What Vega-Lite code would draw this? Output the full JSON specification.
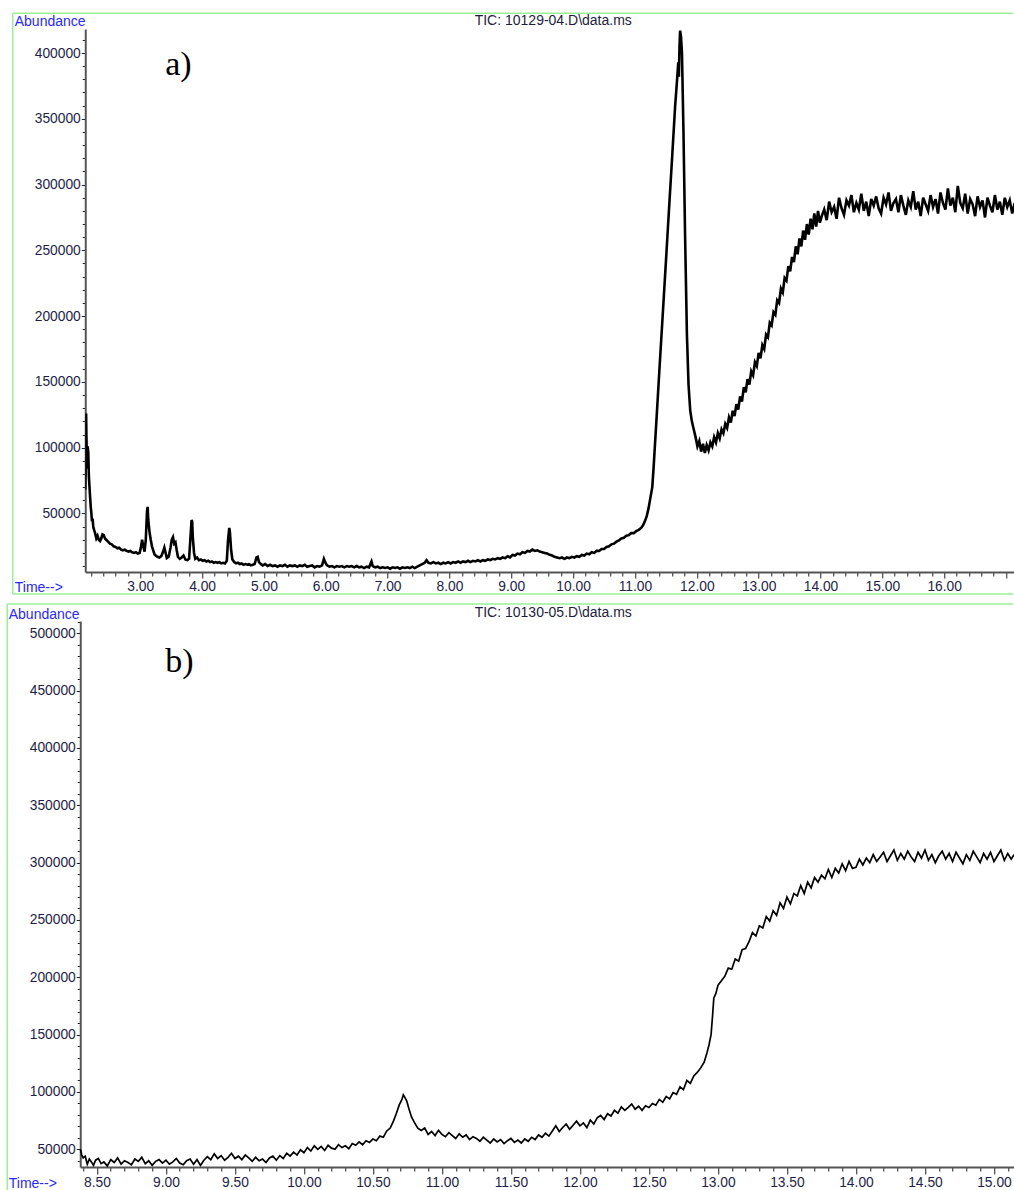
{
"$schema": "https://vega.github.io/schema/vega-lite/v6.json",
"padding": {"left": 6.25, "top": 12, "right": 0, "bottom": 0},
"background": "white",
"spacing": 8,
"config": {"view": {"stroke": null}, "font": "Liberation Sans"},
"datasets": {
"a": [
{"t":2.11,"v":68000},{"t":2.12,"v":92000},{"t":2.125,"v":126000},{"t":2.13,"v":108000},{"t":2.14,"v":84000},{"t":2.15,"v":101000},{"t":2.16,"v":96000},{"t":2.17,"v":78000},{"t":2.18,"v":70000},{"t":2.19,"v":62000},{"t":2.2,"v":55000},{"t":2.21,"v":50000},{"t":2.22,"v":44000},{"t":2.23,"v":46000},{"t":2.24,"v":40000},{"t":2.25,"v":38000},{"t":2.27,"v":35000},{"t":2.29,"v":31000},{"t":2.31,"v":33000},{"t":2.33,"v":30000},{"t":2.35,"v":29000},{"t":2.37,"v":31000},{"t":2.39,"v":34000},{"t":2.41,"v":33500},{"t":2.43,"v":31000},{"t":2.45,"v":30000},{"t":2.48,"v":28500},{"t":2.51,"v":27000},{"t":2.54,"v":26500},{"t":2.57,"v":25000},{"t":2.6,"v":24500},{"t":2.63,"v":23500},{"t":2.66,"v":24000},{"t":2.69,"v":22500},{"t":2.72,"v":22000},{"t":2.75,"v":22500},{"t":2.78,"v":21500},{"t":2.81,"v":21000},{"t":2.84,"v":21500},{"t":2.87,"v":20500},{"t":2.9,"v":20000},{"t":2.93,"v":20500},{"t":2.96,"v":19500},{"t":2.99,"v":20000},
{"t":3.01,"v":24000},{"t":3.03,"v":30000},{"t":3.05,"v":25000},{"t":3.07,"v":21000},{"t":3.09,"v":30000},{"t":3.11,"v":52000},{"t":3.12,"v":55000},{"t":3.13,"v":45000},{"t":3.15,"v":36000},{"t":3.17,"v":30000},{"t":3.19,"v":25000},{"t":3.21,"v":22000},{"t":3.23,"v":19000},{"t":3.25,"v":18000},{"t":3.28,"v":17000},{"t":3.31,"v":16500},{"t":3.34,"v":17500},{"t":3.37,"v":21000},{"t":3.39,"v":24000},{"t":3.41,"v":20000},{"t":3.43,"v":16000},{"t":3.46,"v":17000},{"t":3.49,"v":24000},{"t":3.51,"v":30000},{"t":3.53,"v":32000},{"t":3.55,"v":27000},{"t":3.57,"v":28000},{"t":3.59,"v":22000},{"t":3.61,"v":17000},{"t":3.64,"v":15500},{"t":3.67,"v":16500},{"t":3.7,"v":18000},{"t":3.73,"v":15000},{"t":3.76,"v":14500},{"t":3.79,"v":15500},{"t":3.81,"v":30000},{"t":3.83,"v":45000},{"t":3.84,"v":44000},{"t":3.85,"v":32000},{"t":3.87,"v":20000},{"t":3.89,"v":15500},{"t":3.92,"v":16500},{"t":3.95,"v":14500},{"t":3.98,"v":15000},
{"t":4.01,"v":14000},{"t":4.04,"v":14500},{"t":4.07,"v":13500},{"t":4.1,"v":14000},{"t":4.13,"v":13000},{"t":4.16,"v":13500},{"t":4.19,"v":12500},{"t":4.22,"v":13000},{"t":4.25,"v":12500},{"t":4.28,"v":13000},{"t":4.31,"v":12000},{"t":4.34,"v":12500},{"t":4.37,"v":12000},{"t":4.4,"v":14000},{"t":4.42,"v":30000},{"t":4.44,"v":39000},{"t":4.45,"v":36000},{"t":4.47,"v":22000},{"t":4.49,"v":15000},{"t":4.52,"v":13000},{"t":4.55,"v":12000},{"t":4.58,"v":12500},{"t":4.61,"v":11500},{"t":4.64,"v":12000},{"t":4.67,"v":11000},{"t":4.7,"v":11500},{"t":4.73,"v":11000},{"t":4.76,"v":11500},{"t":4.79,"v":10500},{"t":4.82,"v":11000},{"t":4.85,"v":11500},{"t":4.88,"v":16500},{"t":4.9,"v":17000},{"t":4.92,"v":13000},{"t":4.95,"v":11500},{"t":4.98,"v":10500},
{"t":5.02,"v":11500},{"t":5.06,"v":10000},{"t":5.1,"v":11000},{"t":5.14,"v":10000},{"t":5.18,"v":10500},{"t":5.22,"v":9500},{"t":5.26,"v":10500},{"t":5.3,"v":10000},{"t":5.34,"v":11000},{"t":5.38,"v":9500},{"t":5.42,"v":10500},{"t":5.46,"v":10000},{"t":5.5,"v":10500},{"t":5.54,"v":9500},{"t":5.58,"v":10500},{"t":5.62,"v":10000},{"t":5.66,"v":11000},{"t":5.7,"v":9500},{"t":5.74,"v":10000},{"t":5.78,"v":10500},{"t":5.82,"v":9000},{"t":5.86,"v":10000},{"t":5.9,"v":9500},{"t":5.94,"v":10500},{"t":5.97,"v":15500},{"t":5.99,"v":13000},
{"t":6.02,"v":10500},{"t":6.06,"v":9500},{"t":6.1,"v":10000},{"t":6.14,"v":9000},{"t":6.18,"v":10000},{"t":6.22,"v":9500},{"t":6.26,"v":10000},{"t":6.3,"v":9000},{"t":6.34,"v":10000},{"t":6.38,"v":9500},{"t":6.42,"v":10000},{"t":6.46,"v":9000},{"t":6.5,"v":10000},{"t":6.54,"v":9000},{"t":6.58,"v":9500},{"t":6.62,"v":8500},{"t":6.66,"v":9500},{"t":6.7,"v":9000},{"t":6.74,"v":13500},{"t":6.76,"v":10000},{"t":6.8,"v":9000},{"t":6.84,"v":9500},{"t":6.88,"v":8500},{"t":6.92,"v":9000},{"t":6.96,"v":8500},
{"t":7.0,"v":9000},{"t":7.04,"v":8000},{"t":7.08,"v":9000},{"t":7.12,"v":8500},{"t":7.16,"v":9000},{"t":7.2,"v":8000},{"t":7.24,"v":9000},{"t":7.28,"v":8500},{"t":7.32,"v":9000},{"t":7.36,"v":8500},{"t":7.4,"v":9500},{"t":7.44,"v":8500},{"t":7.48,"v":9500},{"t":7.52,"v":10500},{"t":7.56,"v":11500},{"t":7.6,"v":12500},{"t":7.63,"v":14500},{"t":7.66,"v":12500},{"t":7.7,"v":12000},{"t":7.74,"v":13000},{"t":7.78,"v":12000},{"t":7.82,"v":12500},{"t":7.86,"v":11500},{"t":7.9,"v":12500},{"t":7.94,"v":12000},{"t":7.98,"v":13000},
{"t":8.02,"v":12000},{"t":8.06,"v":13000},{"t":8.1,"v":12500},{"t":8.14,"v":13500},{"t":8.18,"v":12500},{"t":8.22,"v":13500},{"t":8.26,"v":13000},{"t":8.3,"v":14000},{"t":8.34,"v":13000},{"t":8.38,"v":14000},{"t":8.42,"v":13500},{"t":8.46,"v":14500},{"t":8.5,"v":13500},{"t":8.54,"v":14500},{"t":8.58,"v":14000},{"t":8.62,"v":15000},{"t":8.66,"v":14500},{"t":8.7,"v":15500},{"t":8.74,"v":15000},{"t":8.78,"v":16000},{"t":8.82,"v":15500},{"t":8.86,"v":16500},{"t":8.9,"v":16000},{"t":8.94,"v":17500},{"t":8.98,"v":16500},
{"t":9.02,"v":18500},{"t":9.06,"v":18000},{"t":9.1,"v":19500},{"t":9.14,"v":19000},{"t":9.18,"v":20500},{"t":9.22,"v":20000},{"t":9.26,"v":21500},{"t":9.3,"v":21000},{"t":9.34,"v":22500},{"t":9.38,"v":21500},{"t":9.42,"v":22000},{"t":9.46,"v":21000},{"t":9.5,"v":20500},{"t":9.54,"v":20000},{"t":9.58,"v":19500},{"t":9.62,"v":18500},{"t":9.66,"v":18000},{"t":9.7,"v":17000},{"t":9.74,"v":16500},{"t":9.78,"v":16000},{"t":9.82,"v":16500},{"t":9.86,"v":15500},{"t":9.9,"v":16500},{"t":9.94,"v":16000},{"t":9.98,"v":17000},
{"t":10.02,"v":16500},{"t":10.06,"v":17500},{"t":10.1,"v":17000},{"t":10.14,"v":18500},{"t":10.18,"v":18000},{"t":10.22,"v":19500},{"t":10.26,"v":19000},{"t":10.3,"v":20500},{"t":10.34,"v":20000},{"t":10.38,"v":21500},{"t":10.42,"v":21500},{"t":10.46,"v":23000},{"t":10.5,"v":23000},{"t":10.54,"v":24500},{"t":10.58,"v":25000},{"t":10.62,"v":26500},{"t":10.66,"v":27000},{"t":10.7,"v":28500},{"t":10.74,"v":29500},{"t":10.78,"v":31000},{"t":10.82,"v":31500},{"t":10.86,"v":33000},{"t":10.9,"v":33500},{"t":10.94,"v":35000},{"t":10.98,"v":35000},
{"t":11.02,"v":36500},{"t":11.06,"v":37500},{"t":11.1,"v":39000},{"t":11.13,"v":41000},{"t":11.16,"v":44000},{"t":11.19,"v":48000},{"t":11.22,"v":54000},{"t":11.25,"v":62000},{"t":11.28,"v":70000},{"t":11.3,"v":84000},{"t":11.35,"v":123000},{"t":11.4,"v":163000},{"t":11.45,"v":202000},{"t":11.5,"v":241000},{"t":11.55,"v":281000},{"t":11.6,"v":320000},{"t":11.65,"v":360000},{"t":11.68,"v":379000},{"t":11.69,"v":386000},{"t":11.7,"v":393000},{"t":11.71,"v":382000},{"t":11.72,"v":405000},{"t":11.73,"v":417000},{"t":11.745,"v":412000},{"t":11.76,"v":400000},{"t":11.785,"v":338000},{"t":11.81,"v":262000},{"t":11.84,"v":186000},{"t":11.866,"v":148000},{"t":11.894,"v":128000},{"t":11.92,"v":120000},{"t":11.95,"v":114000},
{"t":11.98,"v":108000},{"t":12.01,"v":101000},{"t":12.04,"v":105000},{"t":12.07,"v":97000},{"t":12.1,"v":103000},{"t":12.13,"v":96000},{"t":12.16,"v":102000},{"t":12.19,"v":98000},{"t":12.22,"v":104000},{"t":12.25,"v":101000},{"t":12.28,"v":108000},{"t":12.31,"v":104000},{"t":12.34,"v":111000},{"t":12.37,"v":107000},{"t":12.4,"v":114000},{"t":12.43,"v":111000},{"t":12.46,"v":118000},{"t":12.49,"v":115000},{"t":12.52,"v":123000},{"t":12.55,"v":119000},{"t":12.58,"v":128000},{"t":12.61,"v":124000},{"t":12.64,"v":133000},{"t":12.67,"v":129000},{"t":12.7,"v":139000},{"t":12.73,"v":135000},{"t":12.76,"v":146000},{"t":12.79,"v":142000},{"t":12.82,"v":152000},{"t":12.85,"v":148000},{"t":12.88,"v":158000},{"t":12.91,"v":155000},{"t":12.94,"v":165000},{"t":12.97,"v":162000},
{"t":13.0,"v":172000},{"t":13.03,"v":168000},{"t":13.06,"v":178000},{"t":13.09,"v":175000},{"t":13.12,"v":186000},{"t":13.15,"v":184000},{"t":13.18,"v":195000},{"t":13.21,"v":193000},{"t":13.24,"v":203000},{"t":13.27,"v":201000},{"t":13.3,"v":212000},{"t":13.33,"v":210000},{"t":13.36,"v":221000},{"t":13.39,"v":218000},{"t":13.42,"v":229000},{"t":13.45,"v":227000},{"t":13.48,"v":238000},{"t":13.51,"v":234000},{"t":13.54,"v":245000},{"t":13.57,"v":241000},{"t":13.6,"v":253000},{"t":13.63,"v":247000},{"t":13.66,"v":259000},{"t":13.69,"v":253000},{"t":13.72,"v":265000},{"t":13.75,"v":258000},{"t":13.78,"v":270000},{"t":13.81,"v":262000},{"t":13.84,"v":274000},{"t":13.87,"v":266000},{"t":13.9,"v":278000},{"t":13.93,"v":268000},{"t":13.96,"v":280000},{"t":13.99,"v":271000},
{"t":14.02,"v":276000},{"t":14.06,"v":281000},{"t":14.1,"v":273000},{"t":14.14,"v":287000},{"t":14.18,"v":279000},{"t":14.22,"v":283000},{"t":14.26,"v":274000},{"t":14.3,"v":290000},{"t":14.34,"v":282000},{"t":14.38,"v":277000},{"t":14.42,"v":288000},{"t":14.46,"v":284000},{"t":14.5,"v":292000},{"t":14.54,"v":279000},{"t":14.58,"v":286000},{"t":14.62,"v":281000},{"t":14.66,"v":293000},{"t":14.7,"v":280000},{"t":14.74,"v":287000},{"t":14.78,"v":276000},{"t":14.82,"v":289000},{"t":14.86,"v":284000},{"t":14.9,"v":291000},{"t":14.94,"v":282000},{"t":14.98,"v":278000},
{"t":15.02,"v":290000},{"t":15.06,"v":285000},{"t":15.1,"v":294000},{"t":15.14,"v":280000},{"t":15.18,"v":286000},{"t":15.22,"v":289000},{"t":15.26,"v":279000},{"t":15.3,"v":292000},{"t":15.34,"v":284000},{"t":15.38,"v":277000},{"t":15.42,"v":288000},{"t":15.46,"v":283000},{"t":15.5,"v":295000},{"t":15.54,"v":281000},{"t":15.58,"v":287000},{"t":15.62,"v":276000},{"t":15.66,"v":290000},{"t":15.7,"v":285000},{"t":15.74,"v":280000},{"t":15.78,"v":292000},{"t":15.82,"v":283000},{"t":15.86,"v":289000},{"t":15.9,"v":278000},{"t":15.94,"v":294000},{"t":15.98,"v":286000},
{"t":16.02,"v":281000},{"t":16.06,"v":297000},{"t":16.1,"v":284000},{"t":16.14,"v":290000},{"t":16.18,"v":279000},{"t":16.22,"v":299000},{"t":16.26,"v":286000},{"t":16.3,"v":282000},{"t":16.34,"v":293000},{"t":16.38,"v":278000},{"t":16.42,"v":289000},{"t":16.46,"v":285000},{"t":16.5,"v":276000},{"t":16.54,"v":291000},{"t":16.58,"v":283000},{"t":16.62,"v":288000},{"t":16.66,"v":275000},{"t":16.7,"v":290000},{"t":16.74,"v":284000},{"t":16.78,"v":279000},{"t":16.82,"v":292000},{"t":16.86,"v":281000},{"t":16.9,"v":287000},{"t":16.94,"v":277000},{"t":16.98,"v":290000},{"t":17.02,"v":283000},{"t":17.06,"v":288000},{"t":17.1,"v":278000},{"t":17.14,"v":286000}
],
"b": [
{"t":8.38,"v":50000},{"t":8.39,"v":45000},{"t":8.4,"v":42500},{"t":8.415,"v":44000},{"t":8.43,"v":37000},{"t":8.445,"v":41500},{"t":8.46,"v":39000},{"t":8.475,"v":36000},{"t":8.49,"v":40500},{"t":8.51,"v":42000},{"t":8.53,"v":37500},{"t":8.55,"v":39000},{"t":8.575,"v":35500},{"t":8.6,"v":41000},{"t":8.625,"v":38500},{"t":8.65,"v":42500},{"t":8.675,"v":37000},{"t":8.7,"v":40000},{"t":8.725,"v":38500},{"t":8.75,"v":36500},{"t":8.775,"v":41500},{"t":8.8,"v":39500},{"t":8.825,"v":43000},{"t":8.85,"v":37500},{"t":8.875,"v":40000},{"t":8.9,"v":36000},{"t":8.925,"v":39500},{"t":8.95,"v":41000},{"t":8.975,"v":38000},
{"t":9.0,"v":40500},{"t":9.025,"v":37000},{"t":9.05,"v":39000},{"t":9.075,"v":42000},{"t":9.1,"v":38000},{"t":9.125,"v":36500},{"t":9.15,"v":40000},{"t":9.175,"v":41500},{"t":9.2,"v":37000},{"t":9.225,"v":41000},{"t":9.25,"v":36000},{"t":9.275,"v":40500},{"t":9.3,"v":43500},{"t":9.325,"v":41000},{"t":9.35,"v":46000},{"t":9.375,"v":42000},{"t":9.4,"v":44500},{"t":9.425,"v":40500},{"t":9.45,"v":43000},{"t":9.475,"v":46500},{"t":9.5,"v":42000},{"t":9.525,"v":44000},{"t":9.55,"v":41000},{"t":9.575,"v":45000},{"t":9.6,"v":42500},{"t":9.625,"v":39500},{"t":9.65,"v":43000},{"t":9.675,"v":40000},{"t":9.7,"v":41500},{"t":9.725,"v":38500},{"t":9.75,"v":42500},{"t":9.775,"v":44000},{"t":9.8,"v":40500},{"t":9.825,"v":44500},{"t":9.85,"v":42000},{"t":9.875,"v":46500},{"t":9.9,"v":44000},{"t":9.925,"v":47500},{"t":9.95,"v":45000},{"t":9.975,"v":49500},
{"t":10.0,"v":47000},{"t":10.025,"v":51500},{"t":10.05,"v":48500},{"t":10.075,"v":53000},{"t":10.1,"v":50000},{"t":10.125,"v":52500},{"t":10.15,"v":49000},{"t":10.175,"v":53500},{"t":10.2,"v":51000},{"t":10.225,"v":50000},{"t":10.25,"v":54000},{"t":10.275,"v":51500},{"t":10.3,"v":53000},{"t":10.325,"v":50500},{"t":10.35,"v":55000},{"t":10.375,"v":53500},{"t":10.4,"v":56500},{"t":10.425,"v":54000},{"t":10.45,"v":57500},{"t":10.475,"v":56000},{"t":10.5,"v":59000},{"t":10.525,"v":57500},{"t":10.55,"v":61500},{"t":10.575,"v":60500},{"t":10.6,"v":66000},{"t":10.625,"v":68500},{"t":10.65,"v":75000},{"t":10.67,"v":81500},{"t":10.69,"v":88500},{"t":10.71,"v":93500},{"t":10.72,"v":97500},{"t":10.73,"v":95500},{"t":10.745,"v":92000},{"t":10.76,"v":85500},{"t":10.78,"v":78000},{"t":10.8,"v":73500},{"t":10.825,"v":68500},{"t":10.85,"v":66500},{"t":10.875,"v":68500},{"t":10.9,"v":63000},{"t":10.925,"v":65500},{"t":10.95,"v":62000},{"t":10.975,"v":66500},
{"t":11.0,"v":63000},{"t":11.025,"v":61000},{"t":11.05,"v":64500},{"t":11.075,"v":62000},{"t":11.1,"v":59500},{"t":11.125,"v":63500},{"t":11.15,"v":60500},{"t":11.175,"v":62500},{"t":11.2,"v":58500},{"t":11.225,"v":61000},{"t":11.25,"v":59500},{"t":11.275,"v":57000},{"t":11.3,"v":60500},{"t":11.325,"v":58000},{"t":11.35,"v":55500},{"t":11.375,"v":59000},{"t":11.4,"v":56500},{"t":11.425,"v":58500},{"t":11.45,"v":55000},{"t":11.475,"v":57500},{"t":11.5,"v":59500},{"t":11.525,"v":56000},{"t":11.55,"v":58000},{"t":11.575,"v":55500},{"t":11.6,"v":59000},{"t":11.625,"v":57000},{"t":11.65,"v":60500},{"t":11.675,"v":58500},{"t":11.7,"v":62500},{"t":11.725,"v":60500},{"t":11.75,"v":64000},{"t":11.775,"v":61500},{"t":11.8,"v":66000},{"t":11.825,"v":70500},{"t":11.85,"v":65500},{"t":11.875,"v":69000},{"t":11.9,"v":72000},{"t":11.925,"v":67500},{"t":11.95,"v":71000},{"t":11.975,"v":74500},
{"t":12.0,"v":70500},{"t":12.025,"v":73000},{"t":12.05,"v":69000},{"t":12.075,"v":75500},{"t":12.1,"v":72000},{"t":12.125,"v":77500},{"t":12.15,"v":79500},{"t":12.175,"v":76000},{"t":12.2,"v":81000},{"t":12.225,"v":79000},{"t":12.25,"v":84000},{"t":12.275,"v":81500},{"t":12.3,"v":87000},{"t":12.325,"v":84000},{"t":12.35,"v":86500},{"t":12.375,"v":89500},{"t":12.4,"v":85000},{"t":12.425,"v":87500},{"t":12.45,"v":84000},{"t":12.475,"v":88000},{"t":12.5,"v":86500},{"t":12.525,"v":90000},{"t":12.55,"v":88500},{"t":12.575,"v":93500},{"t":12.6,"v":91000},{"t":12.625,"v":96000},{"t":12.65,"v":94000},{"t":12.675,"v":99500},{"t":12.7,"v":98000},{"t":12.725,"v":104500},{"t":12.75,"v":102000},{"t":12.775,"v":110000},{"t":12.8,"v":107500},{"t":12.825,"v":114000},{"t":12.85,"v":117000},{"t":12.875,"v":121000},{"t":12.9,"v":126000},{"t":12.92,"v":134000},{"t":12.935,"v":141000},{"t":12.95,"v":150000},{"t":12.96,"v":165000},{"t":12.97,"v":182000},{"t":12.985,"v":186000},
{"t":13.0,"v":193000},{"t":13.025,"v":197000},{"t":13.05,"v":201000},{"t":13.075,"v":208000},{"t":13.1,"v":207000},{"t":13.125,"v":216000},{"t":13.15,"v":214000},{"t":13.175,"v":224000},{"t":13.2,"v":225000},{"t":13.225,"v":231000},{"t":13.25,"v":239000},{"t":13.275,"v":236000},{"t":13.3,"v":245000},{"t":13.325,"v":243000},{"t":13.35,"v":253000},{"t":13.375,"v":249000},{"t":13.4,"v":258000},{"t":13.425,"v":254000},{"t":13.45,"v":265000},{"t":13.475,"v":260000},{"t":13.5,"v":270000},{"t":13.525,"v":264000},{"t":13.55,"v":273000},{"t":13.575,"v":271000},{"t":13.6,"v":280000},{"t":13.625,"v":273000},{"t":13.65,"v":283000},{"t":13.675,"v":278000},{"t":13.7,"v":287000},{"t":13.725,"v":283000},{"t":13.75,"v":289000},{"t":13.775,"v":286000},{"t":13.8,"v":294000},{"t":13.825,"v":287000},{"t":13.85,"v":295000},{"t":13.875,"v":291000},{"t":13.9,"v":299000},{"t":13.925,"v":293000},{"t":13.95,"v":301000},{"t":13.975,"v":295000},
{"t":14.0,"v":296000},{"t":14.025,"v":303000},{"t":14.05,"v":298000},{"t":14.075,"v":304000},{"t":14.1,"v":300000},{"t":14.125,"v":307000},{"t":14.15,"v":301000},{"t":14.175,"v":305000},{"t":14.2,"v":309000},{"t":14.225,"v":301000},{"t":14.25,"v":306000},{"t":14.275,"v":311000},{"t":14.3,"v":302000},{"t":14.325,"v":308000},{"t":14.35,"v":303000},{"t":14.375,"v":310000},{"t":14.4,"v":305000},{"t":14.425,"v":301000},{"t":14.45,"v":309000},{"t":14.475,"v":304000},{"t":14.5,"v":311000},{"t":14.525,"v":302000},{"t":14.55,"v":307000},{"t":14.575,"v":300000},{"t":14.6,"v":306000},{"t":14.625,"v":310000},{"t":14.65,"v":303000},{"t":14.675,"v":308000},{"t":14.7,"v":301000},{"t":14.725,"v":309000},{"t":14.75,"v":304000},{"t":14.775,"v":299000},{"t":14.8,"v":307000},{"t":14.825,"v":302000},{"t":14.85,"v":310000},{"t":14.875,"v":305000},{"t":14.9,"v":300000},{"t":14.925,"v":308000},{"t":14.95,"v":303000},{"t":14.975,"v":309000},
{"t":15.0,"v":301000},{"t":15.025,"v":306000},{"t":15.05,"v":311000},{"t":15.075,"v":302000},{"t":15.1,"v":308000},{"t":15.125,"v":303000},{"t":15.145,"v":307000}
]
},
"vconcat": [
{
"width": 929,
"height": 543,
"layer": [
{"data": {"values": [{}]}, "mark": {"type": "rule", "color": "#98f098", "strokeWidth": 1.5},
 "encoding": {"x": {"datum": 0.9386, "type": "quantitative"}, "y": {"datum": -11258, "type": "quantitative"}, "y2": {"datum": 430276}}},
{"data": {"values": [{}]}, "mark": {"type": "rule", "color": "#98f098", "strokeWidth": 1.5},
 "encoding": {"x": {"datum": 0.9386, "type": "quantitative"}, "x2": {"datum": 17.12}, "y": {"datum": 430276, "type": "quantitative"}}},
{"data": {"values": [{}]}, "mark": {"type": "rule", "color": "#98f098", "strokeWidth": 1.5},
 "encoding": {"x": {"datum": 0.9386, "type": "quantitative"}, "x2": {"datum": 17.12}, "y": {"datum": -11258, "type": "quantitative"}}},
{"data": {"values": [{}]}, "mark": {"type": "text", "font": "Liberation Sans", "fontSize": 14, "align": "center", "baseline": "alphabetic", "color": "#1e1e3c"},
 "encoding": {"x": {"datum": 9.6786, "type": "quantitative"}, "y": {"datum": 421600, "type": "quantitative"}, "text": {"value": "TIC: 10129-04.D\\data.ms"}}},
{"data": {"values": [{}]}, "mark": {"type": "text", "font": "Liberation Serif", "fontSize": 34, "align": "left", "baseline": "alphabetic", "color": "black"},
 "encoding": {"x": {"datum": 3.404, "type": "quantitative"}, "y": {"datum": 383500, "type": "quantitative"}, "text": {"value": "a)"}}},
{"data": {"name": "a"}, "mark": {"type": "line", "color": "black", "strokeWidth": 2.6, "clip": true, "interpolate": "linear"},
 "encoding": {
  "x": {"field": "t", "type": "quantitative", "scale": {"domain": [2.111, 17.133], "nice": false, "zero": false},
   "axis": {"values": [2.2,2.4,2.6,2.8,3,3.2,3.4,3.6,3.8,4,4.2,4.4,4.6,4.8,5,5.2,5.4,5.6,5.8,6,6.2,6.4,6.6,6.8,7,7.2,7.4,7.6,7.8,8,8.2,8.4,8.6,8.8,9,9.2,9.4,9.6,9.8,10,10.2,10.4,10.6,10.8,11,11.2,11.4,11.6,11.8,12,12.2,12.4,12.6,12.8,13,13.2,13.4,13.6,13.8,14,14.2,14.4,14.6,14.8,15,15.2,15.4,15.6,15.8,16,16.2,16.4,16.6,16.8,17],
    "tickCount": 1000,
    "labelExpr": "abs(datum.value - round(datum.value)) < 0.001 && datum.value < 16.5 ? format(datum.value, '.2f') : ''",
    "tickSize": {"condition": {"test": "abs(datum.value - round(datum.value)) < 0.001", "value": 6}, "value": 4},
    "tickColor": "#222222", "tickWidth": 1, "domainColor": "#555555", "domainWidth": 2, "grid": false,
    "labelFont": "Liberation Sans", "labelFontSize": 13.8, "labelColor": "#1e1e46", "labelPadding": 1, "labelOverlap": false, "labelFlush": false,
    "title": "Time-->", "titleX": -71, "titleY": 19, "titleAlign": "left", "titleBaseline": "alphabetic", "titleColor": "#2828ff", "titleFont": "Liberation Sans", "titleFontSize": 14, "titleFontWeight": "normal"}},
  "y": {"field": "v", "type": "quantitative", "scale": {"domain": [5477, 418257], "nice": false, "zero": false},
   "axis": {"values": [10000,20000,30000,40000,50000,60000,70000,80000,90000,100000,110000,120000,130000,140000,150000,160000,170000,180000,190000,200000,210000,220000,230000,240000,250000,260000,270000,280000,290000,300000,310000,320000,330000,340000,350000,360000,370000,380000,390000,400000,410000],
    "tickCount": 1000,
    "labelExpr": "datum.value % 50000 === 0 ? format(datum.value, 'd') : ''",
    "tickSize": {"condition": {"test": "datum.value % 50000 === 0", "value": 4}, "value": 3},
    "tickColor": "#222222", "tickWidth": 1, "domainColor": "#555555", "domainWidth": 2, "grid": false,
    "labelFont": "Liberation Sans", "labelFontSize": 13.8, "labelColor": "#1e1e46", "labelPadding": 1, "labelOverlap": false, "labelFlush": false,
    "title": "Abundance", "titleAngle": 0, "titleX": -71, "titleY": -3.3, "titleAlign": "left", "titleBaseline": "alphabetic", "titleColor": "#2828ff", "titleFont": "Liberation Sans", "titleFontSize": 14, "titleFontWeight": "normal"}}
 }}
]
},
{
"width": 929,
"height": 546,
"layer": [
{"data": {"values": [{}]}, "mark": {"type": "rule", "color": "#98f098", "strokeWidth": 1.5},
 "encoding": {"x": {"datum": 7.85, "type": "quantitative"}, "y": {"datum": 14505, "type": "quantitative"}, "y2": {"datum": 525553}}},
{"data": {"values": [{}]}, "mark": {"type": "rule", "color": "#98f098", "strokeWidth": 1.5},
 "encoding": {"x": {"datum": 7.85, "type": "quantitative"}, "x2": {"datum": 15.14}, "y": {"datum": 525553, "type": "quantitative"}}},
{"data": {"values": [{}]}, "mark": {"type": "text", "font": "Liberation Sans", "fontSize": 14, "align": "center", "baseline": "alphabetic", "color": "#1e1e3c"},
 "encoding": {"x": {"datum": 11.8065, "type": "quantitative"}, "y": {"datum": 514215, "type": "quantitative"}, "text": {"value": "TIC: 10130-05.D\\data.ms"}}},
{"data": {"values": [{}]}, "mark": {"type": "text", "font": "Liberation Serif", "fontSize": 34, "align": "left", "baseline": "alphabetic", "color": "black"},
 "encoding": {"x": {"datum": 8.995, "type": "quantitative"}, "y": {"datum": 466200, "type": "quantitative"}, "text": {"value": "b)"}}},
{"data": {"name": "b"}, "mark": {"type": "line", "color": "black", "strokeWidth": 1.7, "clip": false},
 "encoding": {
  "x": {"field": "t", "type": "quantitative", "scale": {"domain": [8.379, 15.147], "range": [-5, 929], "nice": false, "zero": false},
   "axis": {"values": [8.4,8.5,8.6,8.7,8.8,8.9,9,9.1,9.2,9.3,9.4,9.5,9.6,9.7,9.8,9.9,10,10.1,10.2,10.3,10.4,10.5,10.6,10.7,10.8,10.9,11,11.1,11.2,11.3,11.4,11.5,11.6,11.7,11.8,11.9,12,12.1,12.2,12.3,12.4,12.5,12.6,12.7,12.8,12.9,13,13.1,13.2,13.3,13.4,13.5,13.6,13.7,13.8,13.9,14,14.1,14.2,14.3,14.4,14.5,14.6,14.7,14.8,14.9,15,15.1],
    "tickCount": 1000,
    "labelExpr": "abs(datum.value * 2 - round(datum.value * 2)) < 0.001 ? format(datum.value, '.2f') : ''",
    "tickSize": {"condition": {"test": "abs(datum.value * 2 - round(datum.value * 2)) < 0.001", "value": 7}, "value": 4},
    "tickColor": "#222222", "tickWidth": 1, "domainColor": "#555555", "domainWidth": 2, "grid": false,
    "labelFont": "Liberation Sans", "labelFontSize": 13.8, "labelColor": "#1e1e46", "labelPadding": 1, "labelOverlap": false, "labelFlush": false,
    "title": "Time-->", "titleX": -77, "titleY": 20.5, "titleAlign": "left", "titleBaseline": "alphabetic", "titleColor": "#2828ff", "titleFont": "Liberation Sans", "titleFontSize": 14, "titleFontWeight": "normal"}},
  "y": {"field": "v", "type": "quantitative", "scale": {"domain": [34563, 510727], "nice": false, "zero": false},
   "axis": {"values": [40000,50000,60000,70000,80000,90000,100000,110000,120000,130000,140000,150000,160000,170000,180000,190000,200000,210000,220000,230000,240000,250000,260000,270000,280000,290000,300000,310000,320000,330000,340000,350000,360000,370000,380000,390000,400000,410000,420000,430000,440000,450000,460000,470000,480000,490000,500000,510000],
    "tickCount": 1000, "offset": 5,
    "labelExpr": "datum.value % 50000 === 0 ? format(datum.value, 'd') : ''",
    "tickSize": {"condition": {"test": "datum.value % 50000 === 0", "value": 4}, "value": 3},
    "tickColor": "#222222", "tickWidth": 1, "domainColor": "#555555", "domainWidth": 2, "grid": false,
    "labelFont": "Liberation Sans", "labelFontSize": 13.8, "labelColor": "#1e1e46", "labelPadding": 1, "labelOverlap": false, "labelFlush": false,
    "title": "Abundance", "titleAngle": 0, "titleX": -72, "titleY": -3, "titleAlign": "left", "titleBaseline": "alphabetic", "titleColor": "#2828ff", "titleFont": "Liberation Sans", "titleFontSize": 14, "titleFontWeight": "normal"}}
 }}
]
}
]
}
